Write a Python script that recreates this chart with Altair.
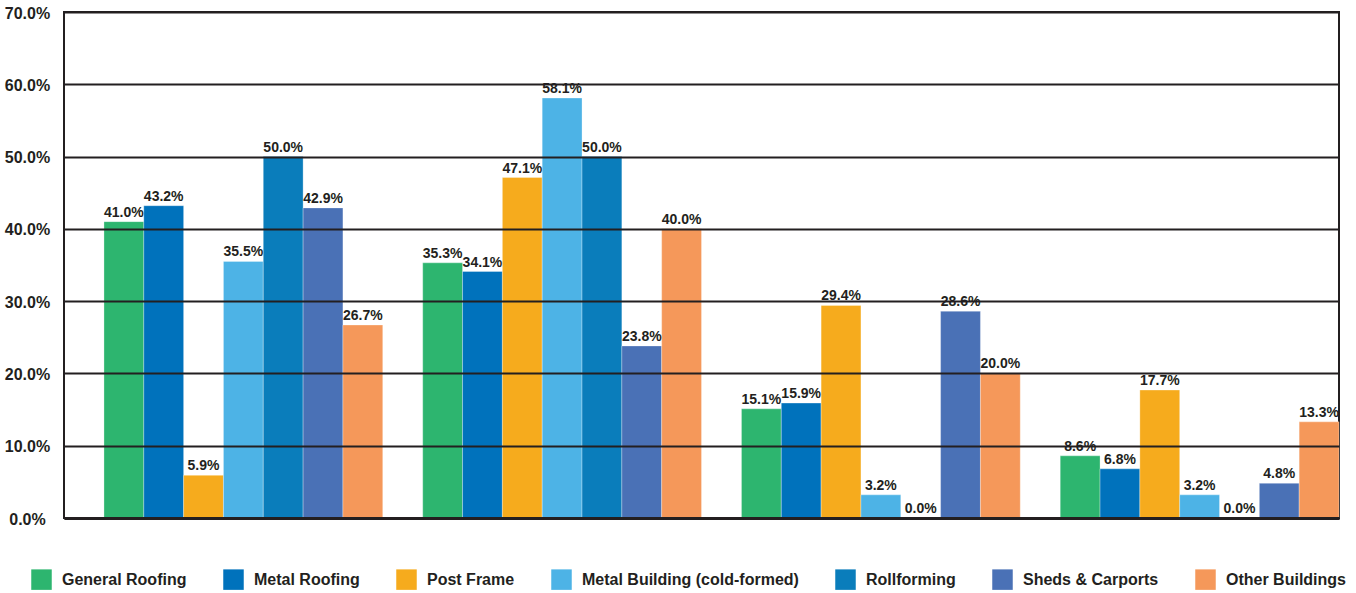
import altair as alt
import pandas as pd

# Survey groups (no axis labels are shown for them) and the seven product series
groups = ["Group 1", "Group 2", "Group 3", "Group 4"]
series = [
    "General Roofing",
    "Metal Roofing",
    "Post Frame",
    "Metal Building (cold-formed)",
    "Rollforming",
    "Sheds & Carports",
    "Other Buildings",
]
colors = ["#2db56f", "#0072bc", "#f6ab1d", "#4db3e6", "#0a7dbb", "#4a71b6", "#f5985a"]

# Share of respondents (%) per group, one list per series
general_roofing = [41.0, 35.3, 15.1, 8.6]
metal_roofing = [43.2, 34.1, 15.9, 6.8]
post_frame = [5.9, 47.1, 29.4, 17.7]
metal_building = [35.5, 58.1, 3.2, 3.2]
rollforming = [50.0, 50.0, 0.0, 0.0]
sheds_carports = [42.9, 23.8, 28.6, 4.8]
other_buildings = [26.7, 40.0, 20.0, 13.3]

y_ticks = [0, 10, 20, 30, 40, 50, 60, 70]

values_by_series = [
    general_roofing,
    metal_roofing,
    post_frame,
    metal_building,
    rollforming,
    sheds_carports,
    other_buildings,
]

rows = []
for name, vals in zip(series, values_by_series):
    for g, v in zip(groups, vals):
        rows.append({"group": g, "series": name, "value": v})
df = pd.DataFrame(rows)

FONT = "Liberation Sans, Arial, Helvetica, sans-serif"
INK = "#231f20"

x_enc = alt.X(
    "group:N",
    sort=groups,
    title=None,
    scale=alt.Scale(paddingInner=0.1254, paddingOuter=0.0627, align=1),
    axis=alt.Axis(
        labels=False,
        ticks=False,
        grid=False,
        domain=True,
        domainColor=INK,
        domainWidth=3,
        zindex=1,
    ),
)
xo_enc = alt.XOffset("series:N", sort=series, scale=alt.Scale(paddingInner=0, paddingOuter=0))
y_enc = alt.Y(
    "value:Q",
    title=None,
    scale=alt.Scale(domain=[0, 70], nice=False, zero=True),
    axis=alt.Axis(
        values=y_ticks,
        labelExpr="format(datum.value, '.1f') + '%'",
        grid=True,
        gridColor=INK,
        gridWidth=2,
        gridOpacity=1,
        domain=False,
        ticks=False,
        tickSize=0,
        labelPadding=37,
        labelAlign="center",
        labelBaseline="middle",
        labelOffset=1,
        labelFont=FONT,
        labelFontSize=16,
        labelFontWeight="bold",
        labelColor=INK,
        zindex=1,
    ),
)

bars = alt.Chart(df).mark_bar(stroke="#ffffff", strokeWidth=0.6, strokeOpacity=0.5).encode(
    x=x_enc,
    xOffset=xo_enc,
    y=y_enc,
    color=alt.Color(
        "series:N",
        sort=series,
        scale=alt.Scale(domain=series, range=colors),
        legend=alt.Legend(
            title=None,
            orient="none",
            legendX=-33,
            legendY=557,
            direction="horizontal",
            columns=7,
            symbolType="square",
            symbolSize=420,
            symbolStrokeWidth=0,
            symbolOpacity=1,
            labelFont=FONT,
            labelFontSize=16,
            labelFontWeight="bold",
            labelColor=INK,
            labelOffset=10,
            labelLimit=400,
            columnPadding=36,
            padding=0,
        ),
    ),
)

labels = (
    alt.Chart(df)
    .transform_calculate(label="format(datum.value, '.1f') + '%'")
    .mark_text(dy=-5, baseline="alphabetic", align="center", font=FONT, fontSize=14, fontWeight="bold", color=INK)
    .encode(x=x_enc, xOffset=xo_enc, y=y_enc, text="label:N")
)

chart = (
    alt.layer(bars, labels)
    .properties(
        width=1275,
        height=506,
        autosize=alt.AutoSizeParams(type="none"),
        padding={"left": 64, "top": 12, "right": 17, "bottom": 75},
        background="#ffffff",
    )
    .configure_view(stroke=INK, strokeWidth=2)
)

chart.save("out.html", embed_options={"renderer": "svg", "actions": False})
